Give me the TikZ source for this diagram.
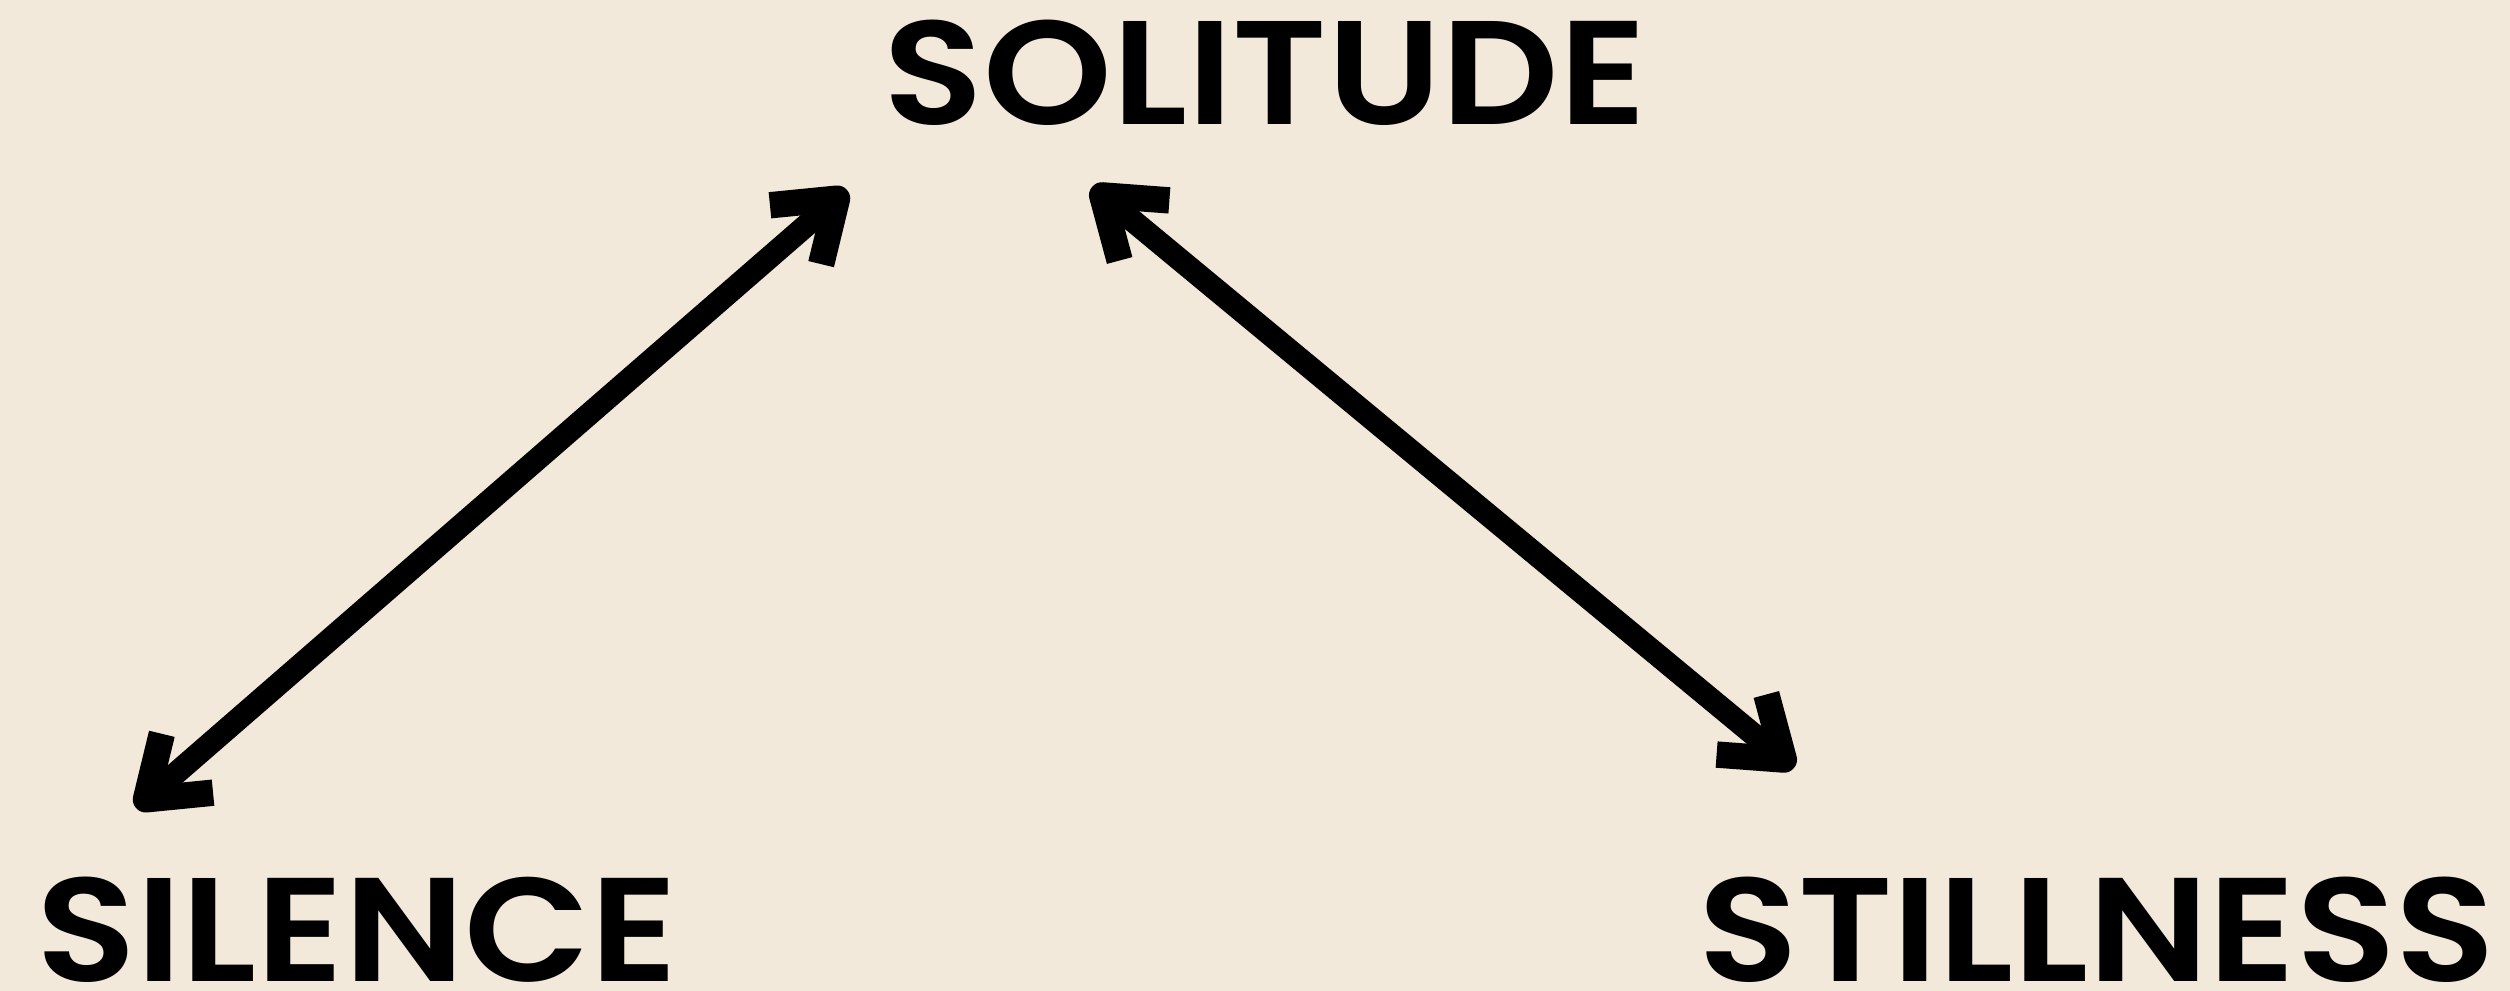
\documentclass[tikz,border=0pt]{standalone}
\usepackage{fontspec}
\newfontfamily\wordfont{Poppins SemiBold}[FakeStretch=1.11]
\usetikzlibrary{arrows.meta}
\definecolor{paper}{HTML}{F3E9DB}
\begin{document}
\begin{tikzpicture}[
	word/.style={font=\fontsize{42}{42}\wordfont, inner sep=0pt, text height=1.03cm, text depth=0pt},
	barb/.tip={Straight Barb[length=0.55cm, width=0.78cm, line width=7.5pt, line join=round, line cap=butt]},
	link/.style={line width=6.5pt, barb-barb}
	]
	\fill[paper] (0,0) rectangle (25.10,9.91);
	\useasboundingbox (0,0) rectangle (25.10,9.91);
	
	\node[word] (solitude) at (12.65,9.175){SOLITUDE};
	\node[word] (silence) at (3.57,0.61){SILENCE};
	\node[word] (stillness) at (20.97,0.61){STILLNESS};
	
	\coordinate (l1) at (1.36,1.83);
	\coordinate (l2) at (8.47,8.01);
	\coordinate (r1) at (10.92,8.04);
	\coordinate (r2) at (17.94,2.23);
	
	\draw[link] (l1) -- (l2);
	\draw[link] (r1) -- (r2);
\end{tikzpicture}
\end{document}
